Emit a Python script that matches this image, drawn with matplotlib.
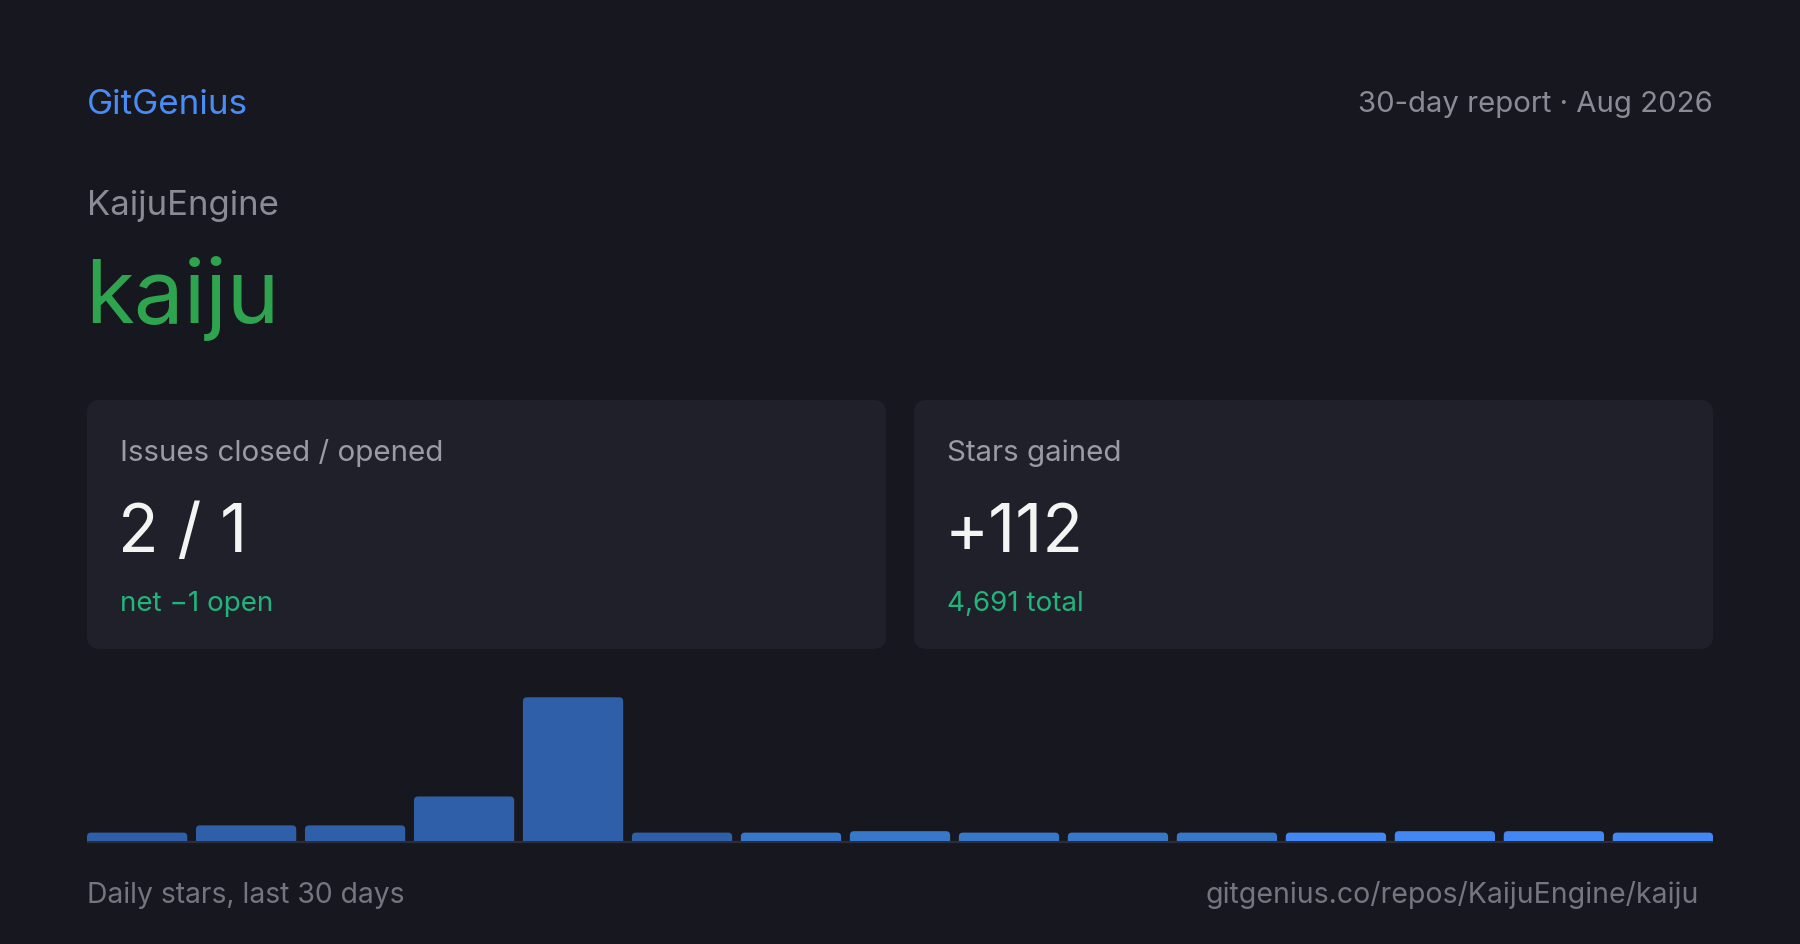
import matplotlib
matplotlib.use("Agg")
import matplotlib.pyplot as plt
from matplotlib.patches import FancyBboxPatch

brand = "GitGenius"
report_period = "30-day report · Aug 2026"
repo_owner = "KaijuEngine"
repo_name = "kaiju"
issues_closed = 2
issues_opened = 1
stars_gained = 112
stars_total = 4691
bar_labels = [f"bin{i + 1}" for i in range(15)]
daily_stars = [2.9, 5.4, 5.4, 15.4, 49.7, 2.9, 2.9, 3.4, 2.9, 2.9, 2.9, 2.9, 3.4, 3.4, 2.9]

# styling
BG = "#17181f"
CARD = "#1f202a"
GRAY = "#8a8b94"
LABEL = "#9a9ba4"
FOOT = "#74767f"
bar_colors = ["#2e5fa8"] * 6 + ["#3878cb"] * 5 + ["#4287f4"] * 4

W, H = 1800, 945
plt.rcParams["font.family"] = ["Inter", "DejaVu Sans"]

fig = plt.figure(figsize=(W / 100, H / 100), dpi=100, facecolor=BG)
ax = fig.add_axes([0, 0, 1, 1])
ax.set_xlim(0, W)
ax.set_ylim(H, 0)
ax.axis("off")
ax.set_facecolor(BG)


def txt(x, y, s, size, color, ha="left", weight="normal"):
    ax.text(x, y, s, fontsize=size, color=color, ha=ha, va="baseline", fontweight=weight)


txt(87, 114, brand, 25.2, "#4a8cf6")
txt(1713, 112, report_period, 21.1, GRAY, ha="right")
txt(87, 215, repo_owner, 25, GRAY)
txt(85, 323, repo_name, 64, "#2ea44f")

# metric cards
net = issues_opened - issues_closed
net_str = f"net {'−' if net < 0 else '+'}{abs(net)} open"
cards = [
    (87, "Issues closed / opened", f"{issues_closed} / {issues_opened}", net_str),
    (914, "Stars gained", f"+{stars_gained}", f"{stars_total:,} total"),
]
for x0, label, value, sub in cards:
    ax.add_patch(FancyBboxPatch((x0, 401), 799, 249,
                                boxstyle="round,pad=0,rounding_size=13",
                                fc=CARD, ec="none"))
    txt(x0 + 33, 461, label, 21.3, LABEL)
    txt(x0 + 31, 552, value, 48, "#f4f4f2")
    txt(x0 + 33, 611, sub, 20, "#22b47a")

# daily stars bars
top_px, base_px = 690, 842
bax = fig.add_axes([87 / W, (H - base_px) / H, 1626 / W, (base_px - top_px) / H])
bax.axis("off")
vmax = max(daily_stars)
ytop = vmax * (base_px - top_px) / (base_px - 698.3)
bax.set_xlim(-0.46, len(daily_stars) - 0.54)
bax.set_ylim(0, ytop)
bars = bax.bar(range(len(daily_stars)), daily_stars, width=0.92, color=bar_colors, linewidth=0)

# swap the plain rectangles for round-topped ones
px_x = 1626 / (len(daily_stars) - 0.08)
px_y = (base_px - top_px) / ytop
r = 4 / px_x
for b in bars:
    x, w, h = b.get_x(), b.get_width(), b.get_height()
    b.set_visible(False)
    bax.add_patch(FancyBboxPatch((x, -r * px_x / px_y * 2), w, h + r * px_x / px_y * 2,
                                 boxstyle=f"round,pad=0,rounding_size={r}",
                                 mutation_aspect=px_x / px_y,
                                 fc=b.get_facecolor(), ec="none", clip_on=True))

ax.plot([87, 1713], [843, 843], color="#2b2d38", lw=1.6, solid_capstyle="butt")

txt(87, 903, "Daily stars, last 30 days", 20.4, FOOT)
txt(1699, 903, f"gitgenius.co/repos/{repo_owner}/{repo_name}", 20.5, FOOT, ha="right")

fig.savefig("out.png", dpi=100, facecolor=BG)
